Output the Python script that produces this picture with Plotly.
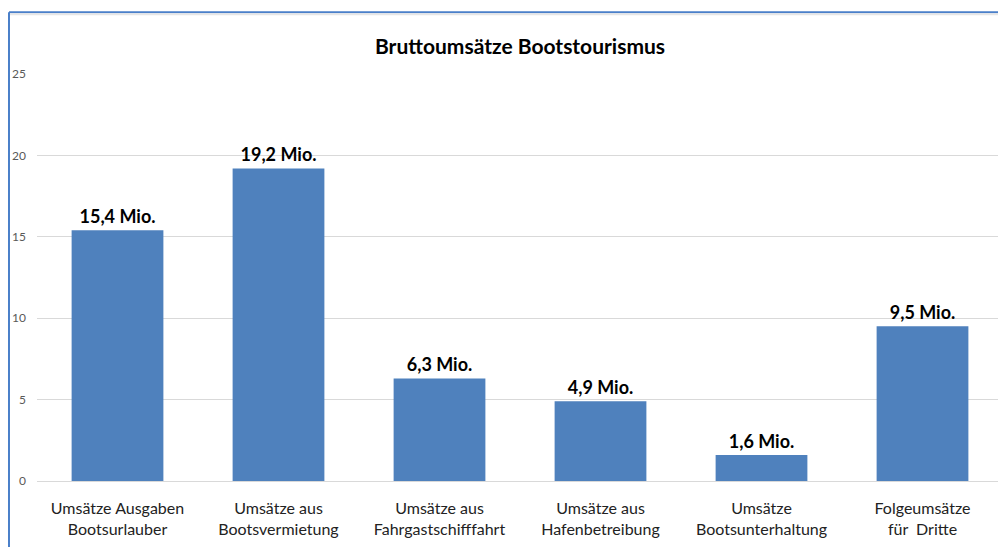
import plotly.graph_objects as go

categories = ["Umsätze Ausgaben<br>Bootsurlauber", "Umsätze aus<br>Bootsvermietung",
              "Umsätze aus<br>Fahrgastschifffahrt", "Umsätze aus<br>Hafenbetreibung",
              "Umsätze<br>Bootsunterhaltung", "Folgeumsätze<br>für  Dritte"]
values = [15.4, 19.2, 6.3, 4.9, 1.6, 9.5]
labels = ["15,4 Mio.", "19,2 Mio.", "6,3 Mio.", "4,9 Mio.", "1,6 Mio.", "9,5 Mio."]
tick_vals = [0, 5, 10, 15, 20, 25]

FONT = "Lato, Carlito, Calibri, sans-serif"
W, H = 998, 539  # page body has an 8px default margin

fig = go.Figure(go.Bar(
    x=categories, y=values, text=labels, textposition="outside",
    textfont=dict(family=FONT, size=18, color="#000000", weight="bold"),
    marker=dict(color="#4F81BD", line=dict(width=0)),
    width=0.57, cliponaxis=False,
))

fig.update_layout(
    width=W, height=H,
    margin=dict(l=29, r=2.5, t=66, b=66),
    paper_bgcolor="white", plot_bgcolor="white",
    showlegend=False,
    title=dict(text="<b>Bruttoumsätze Bootstourismus</b>", x=512 / W, xanchor="center",
               y=1 - 39 / H, yanchor="middle",
               font=dict(family=FONT, size=21, color="#000000")),
    xaxis=dict(showgrid=False, showline=False, ticks="", automargin=False,
               ticklabelstandoff=16,
               tickfont=dict(family=FONT, size=16, color="#222222")),
    yaxis=dict(range=[0, 25], tickvals=tick_vals, showgrid=True, gridcolor="#D9D9D9",
               gridwidth=1.3, zeroline=True, zerolinecolor="#D9D9D9", zerolinewidth=1.3,
               ticks="", ticklabelstandoff=10, automargin=False,
               tickfont=dict(family=FONT, size=12, color="#595959")),
    shapes=[
        dict(type="line", xref="paper", yref="paper", x0=-0.029, x1=1.01, y0=1.152, y1=1.152,
             line=dict(color="#4A7FC9", width=2)),
        dict(type="line", xref="paper", yref="paper", x0=-0.028, x1=1.01, y0=1.147, y1=1.147,
             line=dict(color="#E6E6E6", width=2)),
        dict(type="line", xref="paper", yref="paper", x0=-0.029, x1=-0.029, y0=-0.2, y1=1.152,
             line=dict(color="#4A7FC9", width=2)),
    ],
)

fig.write_html("out.html")
